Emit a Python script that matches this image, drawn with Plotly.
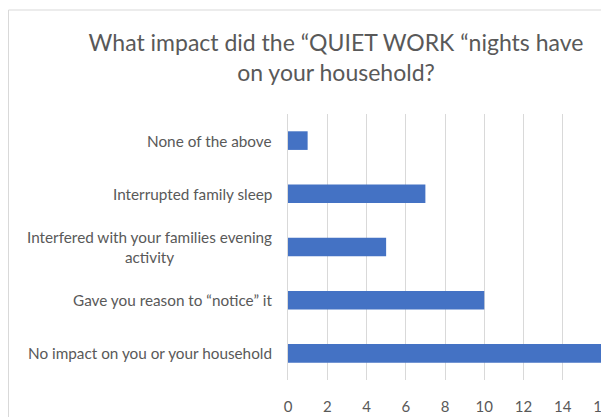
import plotly.graph_objects as go

categories = [
    "No impact on you or your household",
    "Gave you reason to “notice” it",
    "Interfered with your families evening<br>activity",
    "Interrupted family sleep",
    "None of the above",
]
values = [16, 10, 5, 7, 1]
x_ticks = [0, 2, 4, 6, 8, 10, 12, 14, 16]

FONT = "Lato"
GREY = "#595959"

# page body has an 8px default margin, so the figure is 8px smaller
W, H = 601, 409
L, R, T, B = 280, 7, 106, 37
pw, ph = W - L - R, H - T - B

fig = go.Figure()
fig.add_trace(go.Bar(
    y=categories,
    x=values,
    orientation="h",
    marker=dict(color="#4472C4", line=dict(width=0)),
    hoverinfo="x+y",
))

# category labels as centered multi-line annotations
for c in categories:
    fig.add_annotation(
        x=0, xref="paper", y=c, yref="y",
        text=c, showarrow=False,
        xanchor="right", yanchor="middle", align="center",
        xshift=-14,
        font=dict(family=FONT, size=15.3, color=GREY),
    )

# chart-area border (cropped on right/bottom)
fig.add_shape(type="rect", xref="paper", yref="paper",
              x0=(0.5 - L) / pw, x1=2, y0=-1, y1=1 + (T - 2) / ph,
              line=dict(color="#d9d9d9", width=1), fillcolor="rgba(0,0,0,0)",
              layer="below")

fig.update_layout(
    width=W, height=H,
    margin=dict(l=L, r=R, t=T, b=B, autoexpand=False),
    paper_bgcolor="white", plot_bgcolor="white",
    bargap=0.65,
    showlegend=False,
    title=dict(
        text="What impact did the “QUIET WORK “nights have<br>on your household?",
        x=328 / W, xanchor="center", xref="container",
        y=1 - 43 / H, yanchor="top", yref="container",
        font=dict(family=FONT, size=23, color=GREY),
    ),
    xaxis=dict(
        range=[0, 16], tickvals=x_ticks,
        showgrid=True, gridcolor="#d9d9d9", gridwidth=1,
        zeroline=False, showline=False,
        ticks="", ticklabelstandoff=16, ticklabeloverflow="allow",
        automargin=False,
        tickfont=dict(family=FONT, size=15, color=GREY),
        fixedrange=True,
    ),
    yaxis=dict(
        categoryorder="array", categoryarray=categories,
        showticklabels=False, showgrid=False,
        showline=True, linecolor="#d9d9d9", linewidth=1,
        zeroline=False, ticks="", automargin=False,
        fixedrange=True,
    ),
)

fig.write_html("out.html")
